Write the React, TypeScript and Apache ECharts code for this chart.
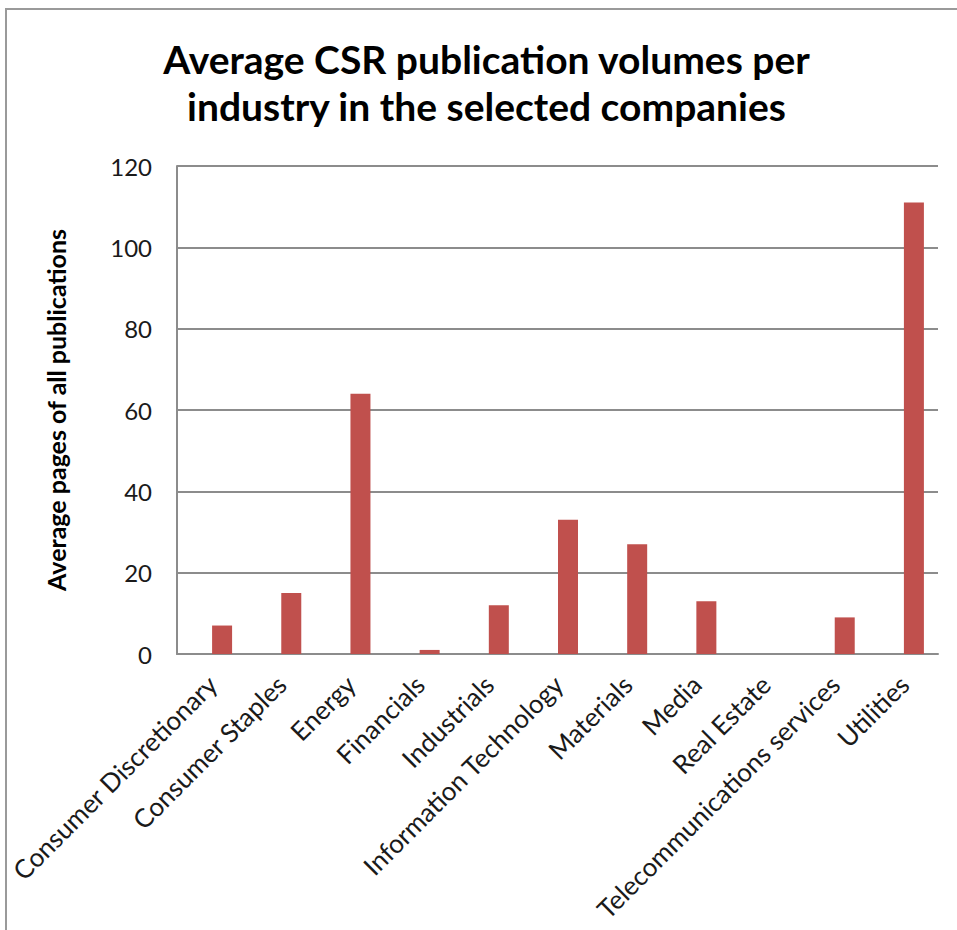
import React, { useEffect, useRef } from "react";
import * as echarts from "echarts";

const categories = [
  "Consumer Discretionary",
  "Consumer Staples",
  "Energy",
  "Financials",
  "Industrials",
  "Information Technology",
  "Materials",
  "Media",
  "Real Estate",
  "Telecommunications services",
  "Utilities",
];
const values = [7, 15, 64, 1, 12, 33, 27, 13, 0, 9, 111];
const yTicks = { min: 0, max: 120, interval: 20 };
const titleLines = ["Average CSR publication volumes per", "industry in the selected companies"];
const yAxisName = "Average pages of all publications";

const FONT = "Lato, 'Noto Sans', sans-serif";

export default function App() {
  const ref = useRef<HTMLDivElement>(null);
  useEffect(() => {
    if (!ref.current) return;
    const chart = echarts.init(ref.current, null, { renderer: "svg" });
    const gridTop = 166;
    const gridH = 488;
    chart.setOption({
      animation: false,
      backgroundColor: "#ffffff",
      grid: [
        { left: 177, top: gridTop, width: 761, height: gridH, containLabel: false },
        { left: 187.5, top: gridTop, width: 761, height: gridH, containLabel: false },
      ],
      xAxis: [
        {
          type: "category",
          gridIndex: 0,
          data: categories,
          axisLine: { show: true, lineStyle: { color: "#8c8c8c", width: 2 } },
          axisTick: { show: false },
          axisLabel: { show: false },
        },
        {
          type: "category",
          gridIndex: 1,
          data: categories,
          axisLine: { show: false },
          axisTick: { show: false },
          axisLabel: {
            show: true,
            interval: 0,
            rotate: 45,
            margin: 16,
            padding: [0, 14, 0, 0],
            color: "#1a1a1a",
            fontFamily: FONT,
            fontSize: 26,
          },
        },
      ],
      yAxis: [
        {
          type: "value",
          gridIndex: 0,
          min: yTicks.min,
          max: yTicks.max,
          interval: yTicks.interval,
          axisLine: { show: true, lineStyle: { color: "#8c8c8c", width: 2 } },
          axisTick: { show: false },
          splitLine: { show: true, lineStyle: { color: "#8c8c8c", width: 2 } },
          axisLabel: { color: "#1a1a1a", fontFamily: FONT, fontSize: 24, margin: 25 },
          name: yAxisName,
          nameLocation: "middle",
          nameGap: 109,
          nameRotate: 90,
          nameTextStyle: { color: "#000", fontFamily: FONT, fontSize: 25, fontWeight: "bold" },
        },
        {
          type: "value",
          gridIndex: 1,
          min: yTicks.min,
          max: yTicks.max,
          interval: yTicks.interval,
          show: false,
          splitLine: { show: false },
        },
      ],
      series: [
        {
          type: "bar",
          xAxisIndex: 1,
          yAxisIndex: 1,
          data: values,
          barWidth: 20,
          itemStyle: { color: "#c0504d" },
        },
      ],
      graphic: [
        {
          type: "polyline",
          shape: { points: [[6, 930], [6, 9], [957, 9]] },
          style: { stroke: "#9a9a9a", lineWidth: 2, fill: null },
          silent: true,
        },
        {
          type: "text",
          x: 486.5,
          y: 82,
          style: {
            text: titleLines.join("\n"),
            font: `bold 39px ${FONT}`,
            fill: "#000",
            textAlign: "center",
            textVerticalAlign: "middle",
            lineHeight: 47,
          },
        },
      ],
    });
    return () => chart.dispose();
  }, []);
  return (
    <div
      ref={ref}
      style={{ position: "fixed", left: 0, top: 0, width: 957, height: 930 }}
    />
  );
}
